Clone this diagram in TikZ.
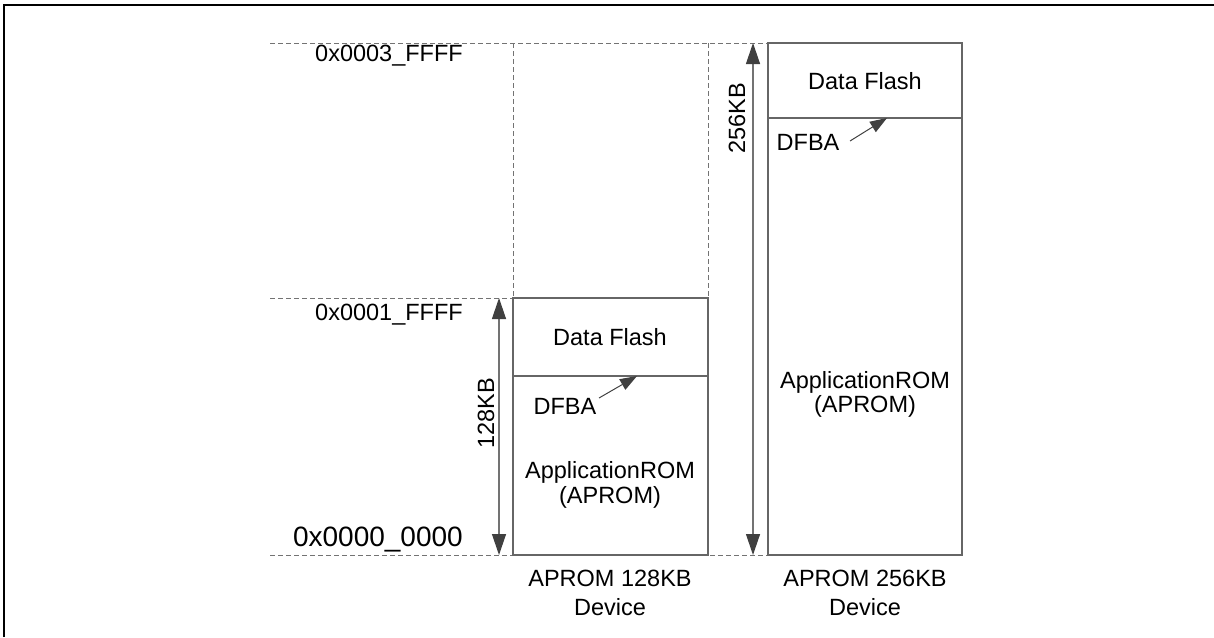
\documentclass[tikz,border=0pt]{standalone}
\usepackage{fontspec}
\setmainfont{Liberation Sans}
\usetikzlibrary{arrows.meta}
\begin{document}
\begin{tikzpicture}[x=1pt,y=-1pt,
  txt/.style={font=\fontsize{23.5}{25}\selectfont, inner sep=0pt, align=center},
  bigtxt/.style={font=\fontsize{28}{32}\selectfont, inner sep=0pt},
  membox/.style={draw=black!60, line width=1.3pt, inner sep=0pt, outer sep=0pt, anchor=north west},
  memline/.style={draw=black!60, line width=1.3pt},
  guide/.style={draw=black!55, line width=1pt, dash pattern=on 5pt off 3pt},
  sizearrow/.style={draw=black!55, line width=1.3pt,
    {Triangle[length=21pt,width=14pt,color=black!75]}-{Triangle[length=21pt,width=14pt,color=black!75]}},
  ptr/.style={draw=black!75, line width=1pt, -{Triangle[length=17pt,width=12pt,color=black!75]}}]
\useasboundingbox (0,0) rectangle (1214,637);
% frame
\draw[line width=2pt] (4,637) -- (4,5) -- (1214,5);
% guides
\draw[guide] (270,43) -- (768,43);
\draw[guide] (270,298) -- (513,298);
\draw[guide] (270,555) -- (768,555);
\draw[guide] (513,43) -- (513,298);
\draw[guide] (708,43) -- (708,555);
% boxes
\node[membox, minimum width=195pt, minimum height=257pt] (box128) at (513,298) {};
\node[membox, minimum width=194pt, minimum height=512pt] (box256) at (768,43) {};
\draw[memline] (513,376) coordinate (d128l) -- (708,376) coordinate (d128r);
\draw[memline] (768,118) coordinate (d256l) -- (962,118) coordinate (d256r);
% size arrows
\coordinate (a128t) at (499,298);
\coordinate (a128b) at (499,555);
\coordinate (a256t) at (753,43);
\coordinate (a256b) at (753,555);
\draw[sizearrow] (a128t) -- (a128b);
\draw[sizearrow] (a256t) -- (a256b);
\node[txt, rotate=90] (l128) at (486,413) {128KB};
\node[txt, rotate=90] (l256) at (737,118) {256KB};
% address labels
\node[txt, anchor=east] (ad3) at (463,56) {0x0003\_FFFF};
\node[txt, anchor=east] (ad1) at (463,315) {0x0001\_FFFF};
\node[bigtxt, anchor=east] (ad0) at (463,539) {0x0000\_0000};
% contents 128
\node[txt] (df128) at (610,337) {Data Flash};
\node[txt] (dfba128) at (565,406) {DFBA};
\coordinate (p128s) at (599,398);
\coordinate (p128e) at (637,376);
\draw[ptr] (p128s) -- (p128e);
\node[txt] (ap128) at (610,472) {ApplicationROM};
\node[txt] (apb128) at (610,497) {(APROM)};
% contents 256
\node[txt] (df256) at (865,81) {Data Flash};
\node[txt] (dfba256) at (808,142) {DFBA};
\coordinate (p256s) at (850,141);
\coordinate (p256e) at (887,118);
\draw[ptr] (p256s) -- (p256e);
\node[txt] (ap256) at (865,382) {ApplicationROM};
\node[txt] (apb256) at (865,406) {(APROM)};
% captions
\node[txt] (c128a) at (610,578) {APROM 128KB};
\node[txt] (c128b) at (610,607) {Device};
\node[txt] (c256a) at (865,578) {APROM 256KB};
\node[txt] (c256b) at (865,607) {Device};
\end{tikzpicture}
\end{document}
